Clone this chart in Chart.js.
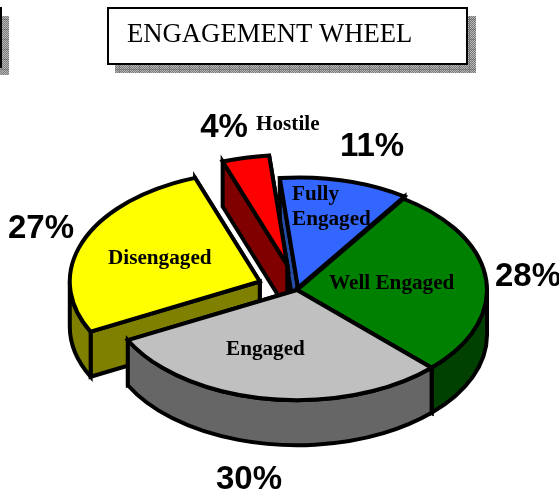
<!DOCTYPE html>
<html>
<head>
<meta charset="utf-8">
<title>Engagement Wheel</title>
<script src="https://cdn.jsdelivr.net/npm/chart.js@4"></script>
<style>
  html, body { margin: 0; padding: 0; background: #fff; }
  canvas { display: block; }
</style>
</head>
<body>
<canvas id="wheel" width="559" height="493"></canvas>
<script>
const categories = ['Fully Engaged', 'Well Engaged', 'Engaged', 'Disengaged', 'Hostile'];
const shares = [11, 28, 30, 27, 4];
const chartTitle = 'ENGAGEMENT WHEEL';

// styles, one per slice
const topColors = ['#3366ff', '#008000', '#c0c0c0', '#ffff00', '#ff0000'];
const wallColors = ['#264da6', '#004000', '#666666', '#808000', '#800000'];
const explode = [4, 0, 0, 40, 44];
const drawOrder = [0, 4, 1, 3, 2]; // back to front

const tilt = 0.58;
const depth = 45;
const lineW = 4;

// where the words go
const pctSpots = [[372, 156], [528, 286], [249, 489], [41, 238], [224, 137]];
const nameSpots = [
  [[292, 200, 'Fully'], [292, 225, 'Engaged']],
  [[329, 289, 'Well Engaged']],
  [[226, 355, 'Engaged']],
  [[108, 264, 'Disengaged']],
  [[256, 130, 'Hostile']]
];

function hatch(ctx) {
  const p = document.createElement('canvas');
  p.width = p.height = 10;
  const c = p.getContext('2d');
  for (let y = 0; y < 10; y++) {
    for (let x = 0; x < 10; x++) {
      c.fillStyle = (x + y) % 2 ? '#7a7a7a' : '#b8b8b8';
      if (x === 9 || y === 9) c.fillStyle = (x + y) % 2 ? '#6a6a6a' : '#909090';
      c.fillRect(x, y, 1, 1);
    }
  }
  return ctx.createPattern(p, 'repeat');
}

function drawSlice(chart, arc, i) {
  const ctx = chart.ctx;
  const r = arc.outerRadius;
  const a0 = arc.startAngle, a1 = arc.endAngle;
  const mid = (a0 + a1) / 2;
  const cx = arc.x + Math.cos(mid) * explode[i];
  const cy = arc.y + Math.sin(mid) * explode[i] * tilt;
  const rimX = a => cx + Math.cos(a) * r;
  const rimY = a => cy + Math.sin(a) * r * tilt;

  ctx.save();
  ctx.lineWidth = lineW;
  ctx.lineJoin = 'miter';
  ctx.strokeStyle = '#000';
  ctx.fillStyle = wallColors[i];

  // cut faces
  [a1, a0].forEach(a => {
    ctx.beginPath();
    ctx.moveTo(cx, cy);
    ctx.lineTo(rimX(a), rimY(a));
    ctx.lineTo(rimX(a), rimY(a) + depth);
    ctx.lineTo(cx, cy + depth);
    ctx.closePath();
    ctx.fill();
    ctx.stroke();
  });

  // outer wall, only the part that faces us
  const T = Math.PI * 2;
  for (let k = -1; k <= 1; k++) {
    const from = Math.max(a0, k * T), to = Math.min(a1, k * T + Math.PI);
    if (to <= from) continue;
    ctx.beginPath();
    ctx.ellipse(cx, cy, r, r * tilt, 0, from, to);
    ctx.lineTo(rimX(to), rimY(to) + depth);
    ctx.ellipse(cx, cy + depth, r, r * tilt, 0, to, from, true);
    ctx.closePath();
    ctx.fill();
    ctx.stroke();
  }

  // top face: the library paints the sector, squashed by the tilt
  ctx.save();
  ctx.translate(cx, cy);
  ctx.scale(1, tilt);
  ctx.translate(-arc.x, -arc.y);
  arc.draw(ctx);
  ctx.restore();

  // outline in screen space so the pen stays even
  ctx.beginPath();
  ctx.moveTo(cx, cy);
  ctx.ellipse(cx, cy, r, r * tilt, 0, a0, a1);
  ctx.closePath();
  ctx.stroke();
  ctx.restore();
}

const wheelPlugin = {
  id: 'wheel',
  beforeDraw(chart) {
    const ctx = chart.ctx;
    // shadow and box of the title, and the scrap of another box at the left
    ctx.save();
    ctx.fillStyle = hatch(ctx);
    ctx.fillRect(468, 16, 8, 57);
    ctx.fillRect(115, 65, 361, 8);
    ctx.fillRect(2, 16, 7, 59);
    ctx.fillRect(0, 68, 9, 7);
    ctx.fillStyle = '#000';
    ctx.fillRect(0, 7, 2, 61);
    ctx.fillStyle = '#fff';
    ctx.fillRect(107, 7, 361, 58);
    ctx.strokeStyle = '#000';
    ctx.lineWidth = 2;
    ctx.strokeRect(108, 8, 359, 56);
    ctx.fillStyle = '#000';
    ctx.font = '26.7px "Liberation Serif"';
    ctx.textBaseline = 'alphabetic';
    ctx.fillText(chartTitle, 127, 42);
    ctx.restore();
  },
  beforeDatasetDraw(chart, args) {
    const arcs = chart.getDatasetMeta(args.index).data;
    drawOrder.forEach(i => drawSlice(chart, arcs[i], i));
    return false;
  },
  afterDraw(chart) {
    const ctx = chart.ctx;
    ctx.save();
    ctx.fillStyle = '#000';
    ctx.textBaseline = 'alphabetic';
    ctx.textAlign = 'center';
    ctx.font = 'bold 33px "Liberation Sans"';
    shares.forEach((v, i) => ctx.fillText(v + '%', pctSpots[i][0], pctSpots[i][1]));
    ctx.textAlign = 'left';
    ctx.font = 'bold 21.2px "Liberation Serif"';
    nameSpots.forEach(lines => lines.forEach(l => ctx.fillText(l[2], l[0], l[1])));
    ctx.restore();
  }
};

new Chart(document.getElementById('wheel'), {
  type: 'pie',
  data: {
    labels: categories,
    datasets: [{
      data: shares,
      backgroundColor: topColors,
      borderWidth: 0
    }]
  },
  options: {
    responsive: false,
    animation: false,
    rotation: -5.5,
    radius: 190,
    layout: { padding: { left: 35, top: 87 } },
    plugins: { legend: { display: false }, tooltip: { enabled: false } }
  },
  plugins: [wheelPlugin]
});
</script>
</body>
</html>
